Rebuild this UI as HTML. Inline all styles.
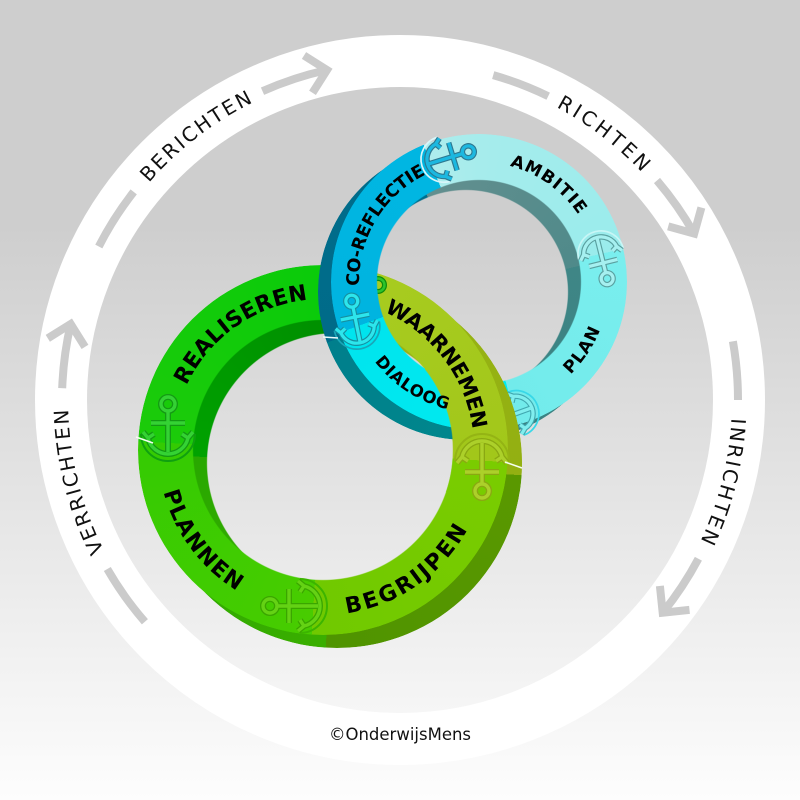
<!DOCTYPE html>
<html><head><meta charset="utf-8"><style>
html,body{margin:0;padding:0}
body{width:800px;height:800px;overflow:hidden;background:linear-gradient(to bottom,#cecece 0%,#cecece 28%,#fdfdfd 100%)}
#w{position:relative;width:800px;height:800px}
.L{position:absolute;left:0;top:0;width:800px;height:800px}
.ring{position:absolute;border-radius:50%}
.g{width:370px;height:370px;-webkit-mask:radial-gradient(circle at 50% 50%,transparent 129.5px,#000 130.5px);mask:radial-gradient(circle at 50% 50%,transparent 129.5px,#000 130.5px)}
.gb{left:152px;top:278px;background:conic-gradient(#008e00 0deg,#009400 10deg,#98b414 10deg,#93b012 93.8deg,#5a9800 93.8deg,#4f9400 183.5deg,#3aae00 183.5deg,#28a800 272.6deg,#00a200 272.6deg,#008e00 360deg)}
.gf{left:138px;top:265px;background:conic-gradient(#0ccb0c 0deg,#10cc10 10deg,#a8cc20 10deg,#a2c71a 93.8deg,#7acc00 93.8deg,#70c900 183.5deg,#48cc00 183.5deg,#34cb02 272.6deg,#1ccb0a 272.6deg,#0acb0a 360deg)}
.c{width:296px;height:296px;-webkit-mask:radial-gradient(circle at 50% 50%,transparent 101.5px,#000 102.5px);mask:radial-gradient(circle at 50% 50%,transparent 101.5px,#000 102.5px)}
.cb{left:318px;top:144px;background:conic-gradient(#5f8e8e 0deg,#4f8a8a 77deg,#3f8686 77deg,#3a8282 165deg,#00898d 165deg,#007f8c 250deg,#006b89 250deg,#006d8b 338deg,#628f8f 338deg,#5f8e8e 360deg)}
.cf{left:331px;top:134px;background:conic-gradient(#a6ecec 0deg,#9aecec 77deg,#7aeeee 77deg,#72ebeb 165deg,#00ebf0 165deg,#00e4ee 250deg,#00b4e0 250deg,#00b6e2 338deg,#aeeded 338deg,#a6ecec 360deg)}
.clip{position:absolute;left:0;top:0;width:800px;height:800px;clip-path:polygon(425px 345px,548px 345px,548px 492px,425px 492px)}
</style></head><body><div id="w">

<svg class="L" width="800" height="800" viewBox="0 0 800 800">
 <circle cx="400" cy="400" r="339" fill="none" stroke="#ffffff" stroke-width="52"/>
 <g fill="none" stroke="#cbcbcb" stroke-width="8" stroke-linejoin="miter">
  <path d="M98.8,246.5 A338,338 0 0 1 133.7,191.9"/>
  <path d="M262.5,91.2 A338,338 0 0 1 326.9,70"/>
  <polyline points="304,55.5 327,70 312.5,92.8"/>
  <path d="M493.2,75.1 A338,338 0 0 1 548.2,96.2"/>
  <path d="M657,180.5 A338,338 0 0 1 694.2,233.6"/>
  <polyline points="701.4,207.6 694.2,233.6 668.2,226.4"/>
  <path d="M732.9,341.3 A338,338 0 0 1 738,400"/>
  <path d="M698.4,558.7 A338,338 0 0 1 662.7,612.7"/>
  <polyline points="689.5,609.9 662.7,612.7 659.9,585.9"/>
  <path d="M144.9,621.8 A338,338 0 0 1 107.3,569"/>
  <path d="M62.2,388.2 A338,338 0 0 1 70.7,324"/>
  <polyline points="47.8,338.3 70.7,324 85,346.9"/>
 </g>
 <defs>
  <path id="tBer" d="M76.7,501.9 A339,339 0 0 1 582.1,114.1"/>
  <path id="tRic" d="M218.8,113.5 A339,339 0 0 1 723,503.1"/>
  <path id="tInr" d="M591.3,120.1 A339,339 0 0 1 433.4,737.3"/>
  <path id="tVer" d="M365.2,737.2 A339,339 0 0 1 210,119.3"/>
 </defs>
 <g font-family="'DejaVu Sans','Liberation Sans',sans-serif" font-size="20" fill="#111">
  <text letter-spacing="2.5" dominant-baseline="central"><textPath href="#tBer" startOffset="50%" text-anchor="middle">BERICHTEN</textPath></text>
  <text letter-spacing="3.6" dominant-baseline="central"><textPath href="#tRic" startOffset="50%" text-anchor="middle">RICHTEN</textPath></text>
  <text letter-spacing="2.6" dominant-baseline="central"><textPath href="#tInr" startOffset="50%" text-anchor="middle">INRICHTEN</textPath></text>
  <text letter-spacing="2.3" dominant-baseline="central"><textPath href="#tVer" startOffset="50%" text-anchor="middle">VERRICHTEN</textPath></text>
  <text x="400" y="740" text-anchor="middle" font-size="16.5">©OnderwijsMens</text>
 </g>
</svg>

<div class="ring g gb"></div>
<div class="ring g gf"></div>

<svg class="L" width="800" height="800" viewBox="0 0 800 800">
 <circle cx="378" cy="285" r="6.5" fill="none" stroke="#0c8c0c" stroke-width="5"/>
 <circle cx="378" cy="285" r="6.5" fill="none" stroke="#2cc42c" stroke-width="2.5"/>
</svg>

<div class="ring c cb"></div>
<div class="ring c cf"></div>

<svg class="L" width="800" height="800" viewBox="0 0 800 800">
 <defs>
  <g id="anc">
   <circle cx="0" cy="-25" r="7"/>
   <path d="M0,-18V23M-17,-6H17M-20,9A20.5,20.5 0 0 0 20,9M-25,3L-20,9L-14,5M25,3L20,9L14,5"/>
  </g>
  <path id="cap" d="M-27,5A27,27 0 0 0 27,5"/>
 </defs>
 <g fill="none">
  <g transform="translate(448,158) rotate(73) scale(0.85)">
   <use href="#cap" stroke="#d8f6fa" stroke-width="2"/>
   <use href="#anc" stroke="#2e7890" stroke-width="6.5"/>
   <use href="#anc" stroke="#1cb8e0" stroke-width="3.8"/>
  </g>
  <g transform="translate(602,258) rotate(166) scale(0.85)">
   <use href="#cap" stroke="#c8f6f6" stroke-width="2"/>
   <use href="#anc" stroke="#5aa0a0" stroke-width="6.5"/>
   <use href="#anc" stroke="#a6f0f0" stroke-width="3.8"/>
  </g>
  <g transform="translate(356,322) rotate(-11.5) scale(0.85)">
   <use href="#cap" stroke="#1aa6b8" stroke-width="2"/>
   <use href="#anc" stroke="#168fa0" stroke-width="6.5"/>
   <use href="#anc" stroke="#2de6ec" stroke-width="3.8"/>
  </g>
  <g transform="translate(512,415) rotate(-110) scale(0.85)">
   <use href="#cap" stroke="#38d8e8" stroke-width="2"/>
   <use href="#anc" stroke="#40a8b0" stroke-width="6.5"/>
   <use href="#anc" stroke="#80eeee" stroke-width="3.8"/>
  </g>
 </g>
 <line x1="323" y1="337" x2="338" y2="338" stroke="#e8fafa" stroke-width="1.5"/>
</svg>

<div class="clip">
 <div class="ring g gb"></div>
 <div class="ring g gf"></div>
</div>

<svg class="L" width="800" height="800" viewBox="0 0 800 800">
 <g fill="none">
  <g transform="translate(168,429)">
   <use href="#cap" stroke="#10a010" stroke-width="2"/>
   <use href="#anc" stroke="#149a14" stroke-width="6"/>
   <use href="#anc" stroke="#34d234" stroke-width="3.4"/>
  </g>
  <g transform="translate(295,606) rotate(-90)">
   <use href="#cap" stroke="#3cb400" stroke-width="2"/>
   <use href="#anc" stroke="#3aa600" stroke-width="6"/>
   <use href="#anc" stroke="#64d214" stroke-width="3.4"/>
  </g>
  <g transform="translate(482,466) rotate(180)">
   <use href="#cap" stroke="#94b414" stroke-width="2"/>
   <use href="#anc" stroke="#8aa812" stroke-width="6"/>
   <use href="#anc" stroke="#acd02a" stroke-width="3.4"/>
  </g>
 </g>
 <g stroke="#f4fff0" stroke-width="1.5">
  <line x1="136" y1="437" x2="153" y2="443"/>
  <line x1="505" y1="462" x2="522" y2="468"/>
 </g>
 <defs>
  <path id="gRea" d="M170.5,491.2 A158,158 0 0 1 413.4,320.4"/>
  <path id="gWaa" d="M277.1,298.8 A158,158 0 0 1 455.4,536.3"/>
  <path id="gBeg" d="M232.4,579.4 A158,158 0 0 0 475.6,409.1"/>
  <path id="gPla" d="M190.9,363.4 A158,158 0 0 0 368.5,601.3"/>
  <path id="cCo" d="M381.9,360.7 A125,125 0 0 1 502.9,159.3"/>
  <path id="cAm" d="M408.7,178.6 A125,125 0 0 1 599.3,316"/>
  <path id="cPl" d="M450.3,403.7 A125,125 0 0 0 579.2,207.2"/>
  <path id="cDi" d="M357.3,253.3 A125,125 0 0 0 553.8,382.2"/>
 </defs>
 <g font-family="'DejaVu Sans','Liberation Sans',sans-serif" font-weight="bold" fill="#000">
  <text font-size="22" letter-spacing="1" dominant-baseline="central"><textPath href="#gRea" startOffset="50%" text-anchor="middle">REALISEREN</textPath></text>
  <text font-size="21" letter-spacing="0.5" dominant-baseline="central"><textPath href="#gWaa" startOffset="50%" text-anchor="middle">WAARNEMEN</textPath></text>
  <text font-size="22" letter-spacing="1.7" dominant-baseline="central"><textPath href="#gBeg" startOffset="50%" text-anchor="middle">BEGRIJPEN</textPath></text>
  <text font-size="22" letter-spacing="0.6" dominant-baseline="central"><textPath href="#gPla" startOffset="50%" text-anchor="middle">PLANNEN</textPath></text>
  <text font-size="17.5" letter-spacing="0.3" dominant-baseline="central"><textPath href="#cCo" startOffset="50%" text-anchor="middle">CO-REFLECTIE</textPath></text>
  <text font-size="17" letter-spacing="1.7" dominant-baseline="central"><textPath href="#cAm" startOffset="50%" text-anchor="middle">AMBITIE</textPath></text>
  <text font-size="17" letter-spacing="0.6" dominant-baseline="central"><textPath href="#cPl" startOffset="50%" text-anchor="middle">PLAN</textPath></text>
  <text font-size="16.5" letter-spacing="0.2" dominant-baseline="central"><textPath href="#cDi" startOffset="50%" text-anchor="middle">DIALOOG</textPath></text>
 </g>
</svg>

</div></body></html>
